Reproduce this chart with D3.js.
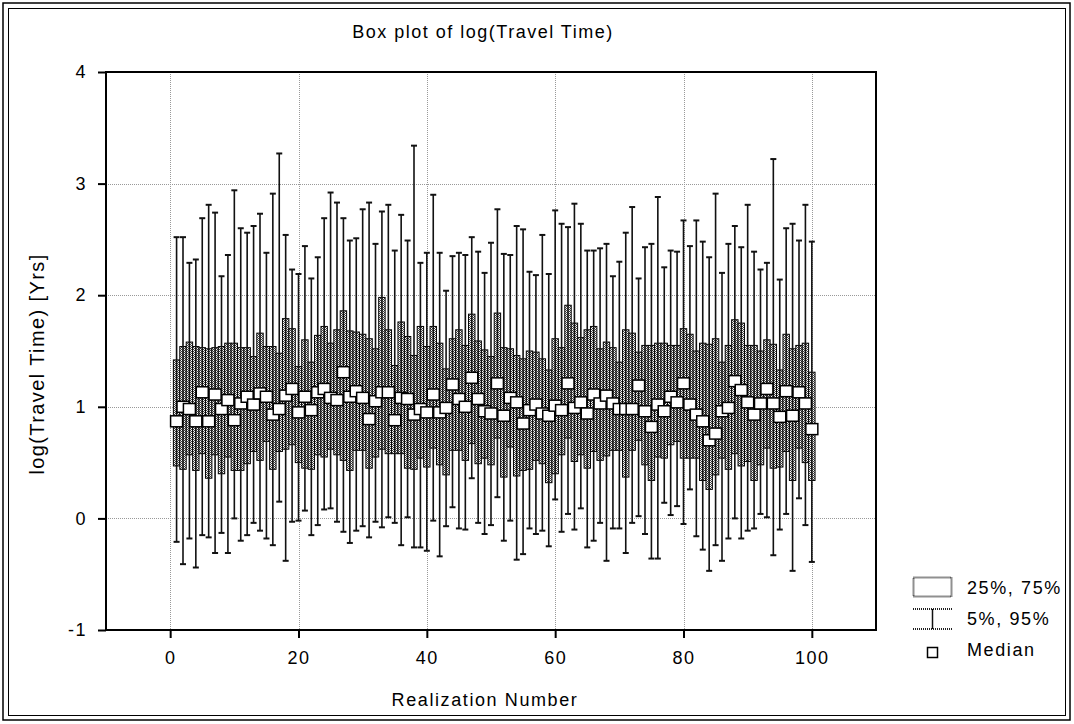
<!DOCTYPE html>
<html>
<head>
<meta charset="utf-8">
<script src="https://cdn.jsdelivr.net/npm/d3@7/dist/d3.min.js"></script>
<style>
  body { margin: 0; background: #fff; }
  svg { display: block; font-family: "Liberation Sans", Arial, sans-serif; }
</style>
</head>
<body>
<svg width="1074" height="724"></svg>
<script>
// Realization numbers 1..100
const realization = d3.range(1, 101);

// 5th percentile (lower whisker)
const p5 = [
  -0.21, -0.41, -0.18, -0.44, -0.15, -0.17, -0.31, -0.13, -0.31, 0.00,
  -0.20, -0.15, -0.04, -0.11, -0.18, -0.24, 0.15, -0.38, -0.03, -0.02,
  0.07, -0.15, -0.06, 0.08, 0.09, -0.03, -0.12, -0.22, -0.11, -0.07,
  -0.17, -0.03, -0.08, 0.01, -0.04, -0.24, 0.01, -0.26, -0.26, -0.29,
  -0.02, -0.34, -0.07, 0.10, -0.09, -0.10, 0.36, -0.04, -0.14, -0.06,
  0.19, -0.20, -0.02, -0.37, -0.32, -0.09, -0.14, -0.11, -0.25, 0.17,
  -0.12, 0.04, -0.10, 0.09, -0.26, -0.20, -0.04, -0.38, -0.09, -0.09,
  -0.31, -0.04, 0.02, -0.14, -0.36, -0.36, 0.14, 0.03, 0.11, -0.05,
  0.26, -0.16, -0.28, -0.47, -0.24, -0.38, -0.18, 0.00, -0.18, -0.11,
  -0.09, 0.04, 0.01, -0.33, -0.10, 0.04, -0.47, 0.18, -0.06, -0.39
];

// 25th percentile (box bottom)
const p25 = [
  0.47, 0.44, 0.57, 0.43, 0.58, 0.36, 0.57, 0.40, 0.55, 0.43,
  0.43, 0.49, 0.60, 0.52, 0.69, 0.44, 0.60, 0.62, 0.66, 0.50,
  0.45, 0.44, 0.57, 0.55, 0.62, 0.57, 0.52, 0.43, 0.61, 0.61,
  0.45, 0.55, 0.62, 0.58, 0.58, 0.58, 0.45, 0.44, 0.54, 0.46,
  0.63, 0.48, 0.39, 0.61, 0.61, 0.52, 0.67, 0.49, 0.54, 0.48,
  0.72, 0.37, 0.64, 0.38, 0.43, 0.44, 0.52, 0.49, 0.32, 0.40,
  0.57, 0.72, 0.51, 0.57, 0.45, 0.60, 0.52, 0.56, 0.61, 0.61,
  0.37, 0.61, 0.70, 0.48, 0.34, 0.55, 0.54, 0.66, 0.69, 0.54,
  0.54, 0.54, 0.34, 0.26, 0.39, 0.54, 0.44, 0.58, 0.47, 0.51,
  0.34, 0.48, 0.63, 0.45, 0.46, 0.60, 0.34, 0.63, 0.50, 0.34
];

// Median
const median = [
  0.87, 1.00, 0.98, 0.87, 1.13, 0.87, 1.11, 0.98, 1.06, 0.88,
  1.03, 1.09, 1.02, 1.12, 1.09, 0.93, 0.98, 1.10, 1.16, 0.95,
  1.09, 0.97, 1.13, 1.16, 1.08, 1.06, 1.31, 1.09, 1.14, 1.08,
  0.89, 1.05, 1.13, 1.13, 0.88, 1.08, 1.07, 0.93, 0.98, 0.95,
  1.11, 0.95, 0.99, 1.20, 1.07, 1.00, 1.26, 1.07, 0.96, 0.94,
  1.21, 0.92, 1.08, 1.04, 0.85, 0.97, 1.02, 0.94, 0.92, 1.01,
  0.97, 1.21, 0.99, 1.04, 0.94, 1.11, 1.03, 1.10, 1.03, 0.98,
  0.98, 0.98, 1.19, 0.96, 0.82, 1.02, 0.96, 1.09, 1.04, 1.21,
  1.02, 0.93, 0.87, 0.70, 0.76, 0.96, 0.99, 1.23, 1.15, 1.04,
  0.93, 1.03, 1.16, 1.03, 0.91, 1.14, 0.92, 1.13, 1.03, 0.80
];

// 75th percentile (box top)
const p75 = [
  1.42, 1.54, 1.58, 1.54, 1.53, 1.52, 1.53, 1.54, 1.57, 1.57,
  1.53, 1.53, 1.45, 1.66, 1.54, 1.54, 1.48, 1.79, 1.70, 1.36,
  1.60, 1.40, 1.64, 1.72, 1.57, 1.69, 1.86, 1.68, 1.67, 1.65,
  1.61, 1.52, 1.98, 1.69, 1.37, 1.76, 1.63, 1.46, 1.72, 1.54,
  1.72, 1.57, 1.34, 1.61, 1.69, 1.55, 1.83, 1.59, 1.51, 1.45,
  1.84, 1.53, 1.52, 1.46, 1.43, 1.50, 1.49, 1.43, 1.33, 1.61,
  1.53, 1.91, 1.75, 1.62, 1.69, 1.72, 1.52, 1.58, 1.53, 1.40,
  1.69, 1.66, 1.49, 1.55, 1.55, 1.57, 1.57, 1.55, 1.55, 1.70,
  1.65, 1.50, 1.57, 1.56, 1.61, 1.40, 1.55, 1.78, 1.75, 1.55,
  1.55, 1.50, 1.60, 1.56, 1.33, 1.65, 1.52, 1.55, 1.57, 1.31
];

// 95th percentile (upper whisker)
const p95 = [
  2.52, 2.52, 2.29, 2.32, 2.69, 2.81, 2.74, 2.17, 2.36, 2.94,
  2.60, 2.56, 2.62, 2.73, 2.38, 2.91, 3.27, 2.54, 2.23, 2.19,
  2.44, 2.15, 2.34, 2.69, 2.92, 2.83, 2.69, 2.49, 2.51, 2.77,
  2.83, 2.46, 2.75, 2.81, 2.40, 2.72, 2.49, 3.34, 2.29, 2.38,
  2.90, 2.38, 2.04, 2.35, 2.38, 2.36, 2.52, 2.39, 2.20, 2.47,
  2.77, 2.37, 2.36, 2.62, 2.59, 2.21, 2.18, 2.54, 2.19, 2.76,
  2.64, 2.61, 2.82, 2.64, 2.40, 2.40, 2.42, 2.46, 2.17, 2.30,
  2.56, 2.79, 2.15, 2.43, 2.46, 2.88, 2.25, 2.40, 2.39, 2.67,
  2.44, 2.67, 2.48, 2.34, 2.91, 2.20, 2.46, 2.62, 2.43, 2.81,
  2.39, 2.23, 2.29, 3.22, 2.14, 2.60, 2.64, 2.49, 2.81, 2.48
];

const xTicks = [0, 20, 40, 60, 80, 100];
const yTicks = [-1, 0, 1, 2, 3, 4];
const legendLabels = ['25%, 75%', '5%, 95%', 'Median'];

const rows = realization.map((r, i) => ({
  r, lo: p5[i], q1: p25[i], med: median[i], q3: p75[i], hi: p95[i]
}));

const svg = d3.select('svg');

// stipple fill used by the boxes
const defs = svg.append('defs');
const pat = defs.append('pattern')
  .attr('id', 'stipple')
  .attr('patternUnits', 'userSpaceOnUse')
  .attr('width', 2).attr('height', 2);
pat.append('rect').attr('width', 2).attr('height', 2).attr('fill', '#fff');
pat.append('rect').attr('width', 1).attr('height', 1).attr('fill', '#444');
pat.append('rect').attr('x', 1).attr('y', 1).attr('width', 1).attr('height', 1).attr('fill', '#444');

// double frame round the whole picture
svg.append('rect').attr('x', 3).attr('y', 3).attr('width', 1067).attr('height', 717)
  .attr('fill', 'none').attr('stroke', '#000').attr('stroke-width', 1.5);
svg.append('rect').attr('x', 8.5).attr('y', 8.5).attr('width', 1057).attr('height', 707)
  .attr('fill', 'none').attr('stroke', '#000').attr('stroke-width', 1);

const x = d3.scaleLinear().domain([-10, 110]).range([106, 876]);
const y = d3.scaleLinear().domain([-1, 4]).range([630, 72]);
const halfW = (x(1) - x(0)) / 2;

// grid
const grid = svg.append('g')
  .attr('stroke', '#999')
  .attr('stroke-dasharray', '1,1')
  .attr('stroke-width', 1);
grid.selectAll('.vg').data(xTicks).enter().append('line')
  .attr('x1', d => Math.round(x(d)) + 0.5).attr('x2', d => Math.round(x(d)) + 0.5)
  .attr('y1', y(4)).attr('y2', y(-1));
grid.selectAll('.hg').data(yTicks.filter(d => d > -1 && d < 4)).enter().append('line')
  .attr('y1', d => Math.round(y(d)) + 0.5).attr('y2', d => Math.round(y(d)) + 0.5)
  .attr('x1', x(-10)).attr('x2', x(110));

// boxes
const plot = svg.append('g');
plot.selectAll('.box').data(rows).enter().append('rect')
  .attr('class', 'box')
  .attr('x', d => x(d.r) - halfW)
  .attr('width', halfW * 2)
  .attr('y', d => y(d.q3))
  .attr('height', d => y(d.q1) - y(d.q3))
  .attr('fill', 'url(#stipple)')
  .attr('stroke', '#000')
  .attr('stroke-width', 1);

// whiskers
const wh = plot.append('g').attr('stroke', '#111').attr('stroke-width', 1.6);
wh.selectAll('.stem').data(rows).enter().append('line')
  .attr('x1', d => x(d.r)).attr('x2', d => x(d.r))
  .attr('y1', d => y(d.hi)).attr('y2', d => y(d.lo));
wh.selectAll('.capHi').data(rows).enter().append('line')
  .attr('x1', d => x(d.r) - 3).attr('x2', d => x(d.r) + 3)
  .attr('y1', d => y(d.hi)).attr('y2', d => y(d.hi))
  .attr('stroke-width', 2);
wh.selectAll('.capLo').data(rows).enter().append('line')
  .attr('x1', d => x(d.r) - 3).attr('x2', d => x(d.r) + 3)
  .attr('y1', d => y(d.lo)).attr('y2', d => y(d.lo))
  .attr('stroke-width', 2);

// medians, drawn last and in order so later squares sit on top
plot.selectAll('.med').data(rows).enter().append('rect')
  .attr('x', d => x(d.r) - 6)
  .attr('y', d => y(d.med) - 5.5)
  .attr('width', 12).attr('height', 11)
  .attr('fill', '#fff')
  .attr('stroke', '#000')
  .attr('stroke-width', 1.5);

// frame and axes
svg.append('rect')
  .attr('x', x(-10)).attr('y', y(4))
  .attr('width', x(110) - x(-10)).attr('height', y(-1) - y(4))
  .attr('fill', 'none').attr('stroke', '#000').attr('stroke-width', 2);

const xAxis = d3.axisBottom(x).tickValues(xTicks).tickSize(8).tickPadding(13);
const yAxis = d3.axisLeft(y).tickValues(yTicks).tickSize(8).tickPadding(11)
  .tickFormat(d => d < 0 ? '-' + Math.abs(d) : d);

const gx = svg.append('g').attr('transform', `translate(0,${y(-1)})`).call(xAxis);
const gy = svg.append('g').attr('transform', `translate(${x(-10)},0)`).call(yAxis);
[gx, gy].forEach(g => {
  g.select('.domain').remove();
  g.selectAll('.tick line').attr('stroke', '#000').attr('stroke-width', 2);
  g.selectAll('.tick text')
    .attr('fill', '#000')
    .style('font-size', '18px')
    .style('letter-spacing', '1.5px')
    .style('font-family', '"Liberation Sans", Arial, sans-serif');
});

// titles
svg.append('text')
  .attr('x', 483).attr('y', 38)
  .attr('text-anchor', 'middle')
  .style('font-size', '18px')
  .style('letter-spacing', '1.5px')
  .text('Box plot of log(Travel Time)');

svg.append('text')
  .attr('x', 485).attr('y', 706)
  .attr('text-anchor', 'middle')
  .style('font-size', '18px')
  .style('letter-spacing', '1.6px')
  .text('Realization Number');

svg.append('text')
  .attr('transform', 'translate(44,364) rotate(-90)')
  .attr('text-anchor', 'middle')
  .style('font-size', '20px')
  .style('letter-spacing', '1.4px')
  .text('log(Travel Time) [Yrs]');

// legend
const lg = svg.append('g');
lg.append('rect')
  .attr('x', 913.5).attr('y', 577.5).attr('width', 38).attr('height', 19)
  .attr('fill', '#fff').attr('stroke', '#222').attr('stroke-width', 2)
  .attr('stroke-dasharray', '1,1');
lg.append('line').attr('x1', 913).attr('x2', 952).attr('y1', 609).attr('y2', 609)
  .attr('stroke', '#222').attr('stroke-width', 2).attr('stroke-dasharray', '1,1');
lg.append('line').attr('x1', 913).attr('x2', 952).attr('y1', 629).attr('y2', 629)
  .attr('stroke', '#222').attr('stroke-width', 2).attr('stroke-dasharray', '1,1');
lg.append('line').attr('x1', 932.5).attr('x2', 932.5).attr('y1', 609).attr('y2', 629)
  .attr('stroke', '#111').attr('stroke-width', 1.5);
lg.append('rect')
  .attr('x', 927.5).attr('y', 647.5).attr('width', 10).attr('height', 10)
  .attr('fill', '#fff').attr('stroke', '#000').attr('stroke-width', 1.5);
lg.selectAll('.lt').data(legendLabels).enter().append('text')
  .attr('x', 967)
  .attr('y', (d, i) => 594 + i * 31)
  .style('font-size', '18px')
  .style('letter-spacing', '1.6px')
  .text(d => d);
</script>
</body>
</html>
